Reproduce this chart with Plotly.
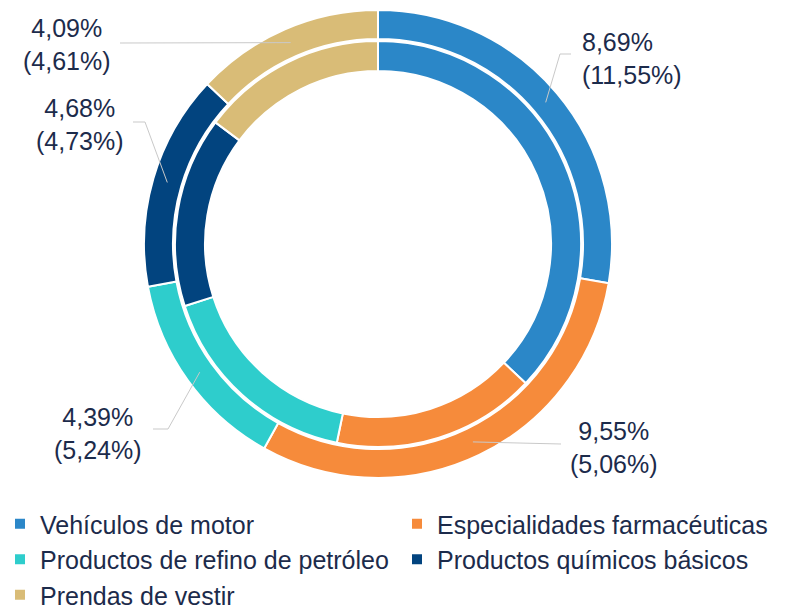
import math
import plotly.graph_objects as go

# ---------------- data ----------------
categories = [
    "Vehículos de motor",
    "Especialidades farmacéuticas",
    "Productos de refino de petróleo",
    "Productos químicos básicos",
    "Prendas de vestir",
]
outer_values = [8.69, 9.55, 4.39, 4.68, 4.09]
inner_values = [11.55, 5.06, 5.24, 4.73, 4.61]

# ---------------- styling / layout ----------------
colors = ["#2B87C8", "#F68B3B", "#2ECDCC", "#02447F", "#D9BC77"]
TEXT_COLOR = "#1C2B4B"
FONT = "Liberation Sans, Arial, sans-serif"

W, H = 796, 608
CX, CY = 378, 244
R_OUT, R_OUT_HOLE = 234, 205
R_IN, R_IN_HOLE = 203, 173


def px_x(x):
    return x / W


def px_y(y):
    return 1 - y / H


def dom(r):
    return dict(x=[px_x(CX - r), px_x(CX + r)], y=[px_y(CY + r), px_y(CY - r)])


def fmt(v):
    return f"{v:.2f}".replace(".", ",") + "%"


# label placement (pixels): text position, anchor side, leader end/elbow near the label
label_pos = [
    dict(x=580, y=58, xanchor="left", align="left", end=(571, 54), elbow=(560, 54)),
    dict(x=614, y=447, xanchor="center", align="center", end=(561, 444), elbow=None),
    dict(x=98, y=433, xanchor="center", align="center", end=(153, 429), elbow=(168, 429)),
    dict(x=80, y=124, xanchor="center", align="center", end=(133, 122), elbow=(145, 122)),
    dict(x=67, y=44, xanchor="center", align="center", end=(120, 43), elbow=None),
]

fig = go.Figure()

fig.add_trace(go.Pie(
    labels=categories,
    values=outer_values,
    hole=R_OUT_HOLE / R_OUT,
    sort=False,
    direction="clockwise",
    rotation=0,
    textinfo="none",
    marker=dict(colors=colors, line=dict(color="white", width=2)),
    domain=dom(R_OUT),
    showlegend=True,
))

fig.add_trace(go.Pie(
    labels=categories,
    values=inner_values,
    hole=R_IN_HOLE / R_IN,
    sort=False,
    direction="clockwise",
    rotation=0,
    textinfo="none",
    marker=dict(colors=colors, line=dict(color="white", width=2)),
    domain=dom(R_IN),
    showlegend=False,
))

# labels and leader lines (anchors computed from data)
total = sum(outer_values)
r_mid = (R_OUT + R_OUT_HOLE) / 2
cum = 0.0
annotations = []
shapes = []
for cat, o, i, lp in zip(categories, outer_values, inner_values, label_pos):
    mid = (cum + o / 2) / total * 2 * math.pi
    cum += o
    ax = CX + r_mid * math.sin(mid)
    ay = CY - r_mid * math.cos(mid)
    pts = [(ax, ay)]
    if lp["elbow"] is not None:
        pts.append(lp["elbow"])
    pts.append(lp["end"])
    path = "M " + " L ".join(f"{px_x(x)},{px_y(y)}" for x, y in pts)
    shapes.append(dict(type="path", xref="paper", yref="paper", path=path,
                       line=dict(color="#C9C9C9", width=1)))
    annotations.append(dict(
        text=f"{fmt(o)}<br>({fmt(i)})",
        x=px_x(lp["x"]), y=px_y(lp["y"]), xref="paper", yref="paper",
        xanchor=lp["xanchor"], yanchor="middle", align=lp["align"],
        showarrow=False,
        font=dict(family=FONT, size=25, color=TEXT_COLOR),
    ))

fig.update_layout(
    width=W, height=H,
    margin=dict(l=0, r=0, t=0, b=0, autoexpand=False),
    paper_bgcolor="white",
    plot_bgcolor="white",
    annotations=annotations,
    shapes=shapes,
    legend=dict(
        orientation="h",
        x=0, y=px_y(501),
        xanchor="left", yanchor="top",
        entrywidth=352, entrywidthmode="pixels",
        font=dict(family=FONT, size=25, color=TEXT_COLOR),
        itemsizing="constant",
    ),
)

fig.write_html("out.html", config={"displayModeBar": False},
               post_script="document.body.style.margin='0';")
